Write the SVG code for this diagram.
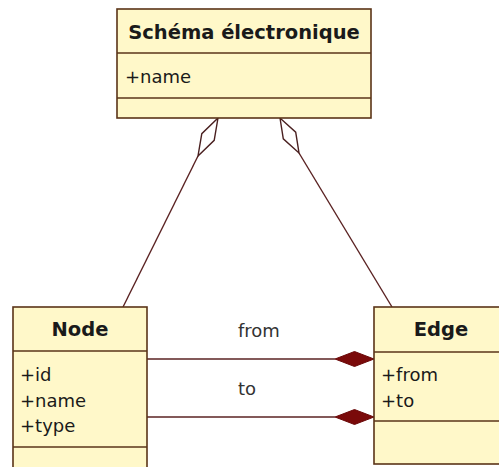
<svg xmlns="http://www.w3.org/2000/svg" width="499" height="467" viewBox="0 0 499 467">
<style>
.box{fill:#fff8c9;stroke:#5a3418;stroke-width:1.6}
.div{stroke:#5a3418;stroke-width:1.6;fill:none}
.title{font-family:"DejaVu Sans",Verdana,sans-serif;font-weight:bold;font-size:19.5px;fill:#1a1a1a;text-anchor:middle}
.attr{font-family:"DejaVu Sans",Verdana,sans-serif;font-size:18px;fill:#1a1a1a}
.lbl{font-family:"DejaVu Sans",Verdana,sans-serif;font-size:18px;fill:#333}
.line{stroke:#5a2222;stroke-width:1.4;fill:none}
.agg{fill:#ffffff;stroke:#4a2020;stroke-width:1.4}
.comp{fill:#7a0a0a;stroke:#6a0808;stroke-width:1}
</style>
<rect width="499" height="467" fill="#ffffff"/>
<g id="connectors">
<line class="line" x1="123" y1="307" x2="198" y2="156"/>
<polygon class="agg" points="218,118 214.2,140.3 198,156 201.8,133.7"/>
<line class="line" x1="392" y1="307" x2="299" y2="153"/>
<polygon class="agg" points="280,118 283.3,138.8 299,153 295.7,132.2"/>
<line class="line" x1="147" y1="359" x2="335" y2="359"/>
<polygon class="comp" points="374,359 354.5,351.5 335,359 354.5,366.5"/>
<text class="lbl" x="238" y="337">from</text>
<line class="line" x1="147" y1="417" x2="335" y2="417"/>
<polygon class="comp" points="374,417 354.5,409.5 335,417 354.5,424.5"/>
<text class="lbl" x="238" y="395">to</text>
</g>
<g id="schema">
<rect class="box" x="117" y="9" width="254" height="109"/>
<line class="div" x1="117" y1="53" x2="371" y2="53"/>
<line class="div" x1="117" y1="98" x2="371" y2="98"/>
<text class="title" x="244" y="39">Schéma électronique</text>
<text class="attr" x="125" y="83">+name</text>
</g>
<g id="node">
<rect class="box" x="13" y="307" width="134" height="175"/>
<line class="div" x1="13" y1="351" x2="147" y2="351"/>
<line class="div" x1="13" y1="447" x2="147" y2="447"/>
<text class="title" x="80" y="336">Node</text>
<text class="attr" x="20" y="381">+id</text>
<text class="attr" x="20" y="407">+name</text>
<text class="attr" x="20" y="432">+type</text>
</g>
<g id="edge">
<rect class="box" x="374" y="307" width="134" height="157"/>
<line class="div" x1="374" y1="352" x2="508" y2="352"/>
<line class="div" x1="374" y1="421" x2="508" y2="421"/>
<text class="title" x="441" y="336">Edge</text>
<text class="attr" x="381" y="381">+from</text>
<text class="attr" x="381" y="407">+to</text>
</g>
</svg>
